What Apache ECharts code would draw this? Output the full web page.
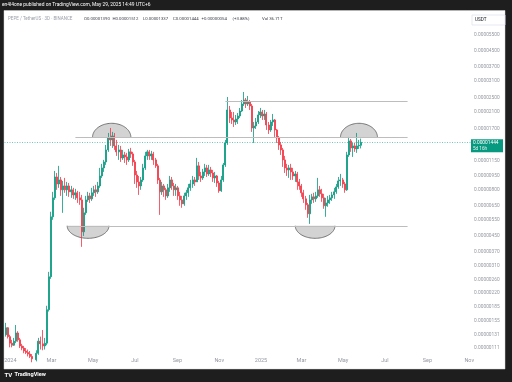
<!DOCTYPE html>
<html><head><meta charset="utf-8">
<script src="https://cdn.jsdelivr.net/npm/echarts@6/dist/echarts.min.js"></script>
<style>html,body{margin:0;padding:0;background:#1e1e1e;}#c{width:512px;height:382px;}</style>
</head><body><div id="c"></div><script>
// Prices in units of 1e-8 USDT (0.00001444 = 1444)
const PRICE_UNIT = 1e-8;
const candleStart = '2023-12-22';
const candleStepDays = 3;
const openE8 = [148,131,143,128,118,115,121,134,123,114,
111,107,105,103,100,97,96,104,121,117,
114,118,179,270,570,722,937,859,903,798,
838,798,838,778,798,749,769,722,704,473,
599,704,740,713,769,798,778,838,949,1049,
1130,1313,1524,1487,1562,1380,1281,1313,1188,1233,
1203,1159,1281,1249,1130,961,881,838,903,1049,
1218,1281,1218,1249,1159,1076,903,778,838,798,
740,818,903,838,798,818,740,704,670,740,
769,818,859,903,881,1076,949,926,998,1049,
973,1023,985,926,949,870,788,903,1089,1432,
2160,1955,1907,1860,1931,2005,2133,2328,2447,2328,
2387,2271,1726,1770,1860,2030,2107,2005,2055,1792,
1684,1860,1907,1684,1524,1397,1313,1159,1049,1023,
1049,998,949,973,881,838,769,713,662,592,
704,731,713,740,798,759,722,654,678,704,
722,749,778,828,892,903,859,798,1233,1469,
1346,1380,1329,1380,1390];
const highE8 = [152,152,144,131,123,126,148,137,126,117,
114,111,109,107,103,100,108,126,128,139,
126,188,287,607,778,1010,985,1076,937,892,
926,881,870,838,818,808,788,778,749,638,
740,778,769,818,838,849,881,1049,1103,1159,
1397,1622,1726,1643,1622,1487,1397,1380,1313,1281,
1265,1329,1346,1281,1159,1010,949,937,1103,1281,
1313,1313,1297,1281,1188,1103,926,881,859,818,
859,949,937,870,859,838,778,740,769,798,
859,903,949,937,1188,1130,998,1036,1103,1089,
1089,1062,1023,998,961,892,949,1116,1487,2540,
2271,2107,2107,2030,2081,2215,2447,2703,2508,2572,
2447,2328,1860,1955,2133,2215,2160,2160,2107,1860,
1907,2055,1931,1705,1562,1450,1346,1218,1103,1089,
1103,1049,1010,998,914,859,798,740,678,749,
759,769,778,926,838,808,759,722,740,749,
778,818,859,937,973,926,881,1281,1543,1505,
1432,1432,1622,1487,1512];
const lowE8 = [126,128,125,112,112,114,118,120,111,108,
104,103,100,98,93,92,94,102,109,108,
109,115,175,263,549,704,798,818,740,599,
769,740,731,722,713,704,678,662,392,449,
584,687,678,695,740,731,759,818,926,998,
1089,1281,1380,1346,1313,1218,1159,1130,1159,1116,
1089,1130,1188,1076,859,818,749,798,881,1023,
1159,1159,1159,1089,1049,859,584,749,731,704,
722,778,798,740,740,704,654,638,654,704,
731,788,818,838,881,903,881,903,949,937,
949,937,881,870,828,769,778,881,1062,1397,
1837,1814,1748,1792,1814,1955,2107,2271,2215,2271,
2160,1643,1432,1705,1814,1955,1907,1907,1684,1602,
1643,1770,1543,1432,1313,1233,1062,985,949,926,
903,903,881,798,798,731,678,622,563,522,
670,678,687,722,731,687,630,570,646,670,
695,713,759,808,838,818,769,788,1203,1281,
1203,1281,1265,1329,1337];
const closeE8 = [131,143,128,118,115,121,134,123,114,111,
107,105,103,100,97,96,104,121,117,114,
118,179,270,570,722,937,859,903,798,838,
798,838,778,798,749,769,722,704,473,599,
704,740,713,769,798,778,838,949,1049,1130,
1313,1524,1487,1562,1380,1281,1313,1188,1233,1203,
1159,1281,1249,1130,961,881,838,903,1049,1218,
1281,1218,1249,1159,1076,903,778,838,798,740,
818,903,838,798,818,740,704,670,740,769,
818,859,903,881,1076,949,926,998,1049,973,
1023,985,926,949,870,788,903,1089,1432,2160,
1955,1907,1860,1931,2005,2133,2328,2447,2328,2387,
2271,1726,1770,1860,2030,2107,2005,2055,1792,1684,
1860,1907,1684,1524,1397,1313,1159,1049,1023,1049,
998,949,973,881,838,769,713,662,592,704,
731,713,740,798,759,722,654,678,704,722,
749,778,828,892,903,859,798,1233,1469,1346,
1380,1329,1380,1390,1444];

const yTickValues = [0.000055,0.000045,0.000037,0.000031,0.000025,0.000021,0.000017,0.0000115,0.0000095,0.000008,0.0000065,0.0000055,0.0000045,0.0000037,0.0000031,0.0000026,0.0000022,0.00000185,0.00000155,0.00000131,0.00000111];
const xTickDates = ['2024-01-01','2024-03-01','2024-05-01','2024-07-01','2024-09-01','2024-11-01','2025-01-01','2025-03-01','2025-05-01','2025-07-01','2025-09-01','2025-11-01'];
const xTickLabels = ['2024','Mar','May','Jul','Sep','Nov','2025','Mar','May','Jul','Sep','Nov'];

const levelStart = ['2024-04-05','2024-11-10','2024-03-25'];
const levelEnd = ['2025-08-03','2025-08-03','2025-08-03'];
const levelPrice = [0.00001536,0.00002406,0.0000051];

const arcStart = ['2024-04-30','2024-03-24','2025-02-20','2025-04-27'];
const arcEnd = ['2024-06-25','2024-05-24','2025-04-19','2025-06-20'];
const arcBase = [0.00001536,0.0000051,0.0000051,0.00001536];
const arcTip = [0.00001829,0.00000436,0.00000436,0.00001829];

const lastPrice = 0.00001444;
const lastPriceText = '0.00001444';
const countdownText = '5d 16h';
const headerSymbol = 'PEPE / TetherUS · 3D · BINANCE';
const headerValues = ['O0.00001390','H0.00001512','L0.00001337','C0.00001444','+0.00000054','(+3.88%)','Vol 36.71T'];
const publishText = 'en4l4one published on TradingView.com, May 29, 2025 14:49 UTC+6';

const DAY = 86400000;
const ts = d => Date.parse(d + 'T00:00:00Z');
const lg = Math.log10;
const xMin = Date.parse('2023-12-23T12:00:00Z');
const xMax = Date.parse('2025-11-03T00:00:00Z');

const candles = closeE8.map((c, k) => [
  ts(candleStart) + k * candleStepDays * DAY,
  lg(openE8[k] * PRICE_UNIT), lg(c * PRICE_UNIT), lg(lowE8[k] * PRICE_UNIT), lg(highE8[k] * PRICE_UNIT)
]);
const levels = levelPrice.map((p, i) => [ts(levelStart[i]), ts(levelEnd[i]), lg(p)]);
const arcs = arcBase.map((b, i) => [ts(arcStart[i]), ts(arcEnd[i]), lg(b), lg(arcTip[i])]);
const xTickTs = xTickDates.map(ts);

const FONT = 'Roboto, "DejaVu Sans", sans-serif';
const chart = echarts.init(document.getElementById('c'), null, {renderer: 'canvas'});
const option = {
  animation: false,
  backgroundColor: '#1e1e1e',
  grid: {left: 4.5, right: 41.4, top: 11, bottom: 27, containLabel: false},
  xAxis: {
    type: 'value', min: xMin, max: xMax,
    axisLine: {show: false}, axisTick: {show: false}, splitLine: {show: false},
    axisLabel: {
      customValues: xTickTs, margin: 2.5, fontSize: 5.5, color: '#9598a1', fontFamily: FONT,
      formatter: v => { const i = xTickTs.findIndex(t => Math.abs(t - v) < DAY); return i >= 0 ? xTickLabels[i] : ''; }
    }
  },
  yAxis: {
    type: 'value', position: 'right', min: lg(1.018e-6), max: lg(7.418e-5), scale: true,
    axisLine: {show: false}, axisTick: {show: false}, splitLine: {show: false},
    axisLabel: {
      customValues: yTickValues.map(lg), margin: 3.5, fontSize: 4.8, color: '#9598a1', fontFamily: FONT,
      formatter: v => Math.pow(10, v).toFixed(8)
    }
  },
  series: [
    {
      type: 'custom', z: 1, silent: true, clip: true,
      data: arcs, encode: {x: [0, 1], y: [2, 3]},
      renderItem: (params, api) => {
        const a = api.coord([api.value(0), api.value(2)]);
        const b = api.coord([api.value(1), api.value(2)]);
        const t = api.coord([api.value(0), api.value(3)]);
        const cx = (a[0] + b[0]) / 2, rx = (b[0] - a[0]) / 2, by = a[1], ry = t[1] - by;
        const pts = [];
        for (let i = 0; i <= 48; i++) { const th = Math.PI * i / 48; pts.push([cx - rx * Math.cos(th), by + ry * Math.sin(th)]); }
        return {type: 'group', children: [
          {type: 'polygon', shape: {points: pts}, style: {fill: 'rgba(150,150,150,0.42)', stroke: 'none'}},
          {type: 'polyline', shape: {points: pts}, style: {stroke: '#5a5a5a', lineWidth: 0.8, fill: 'none'}}
        ]};
      }
    },
    {
      type: 'custom', z: 4, silent: true, clip: true,
      data: levels, encode: {x: [0, 1], y: 2},
      renderItem: (params, api) => {
        const a = api.coord([api.value(0), api.value(2)]);
        const b = api.coord([api.value(1), api.value(2)]);
        const y = Math.round(a[1]) + 0.5;
        return {type: 'polyline', shape: {points: [[a[0], y], [b[0], y]]}, style: {stroke: '#bdbdbd', lineWidth: 1, fill: 'none', opacity: 1}};
      }
    },
    {
      type: 'candlestick', z: 3, clip: true,
      data: candles, encode: {x: 0, y: [1, 2, 3, 4]},
      barWidth: 1.5,
      itemStyle: {color: '#089981', color0: '#f23645', borderColor: '#089981', borderColor0: '#f23645', borderWidth: 0.8},
      markLine: {
        silent: true, symbol: ['none', 'none'], animation: false,
        lineStyle: {color: '#089981', type: [1, 1.5], width: 0.8, opacity: 0.7},
        label: {show: false},
        data: [{yAxis: lg(lastPrice)}]
      }
    }
  ],
  graphic: [
    {type: 'rect', z: -10, shape: {x: 4, y: 10.5, width: 501, height: 358.5}, style: {fill: '#ffffff', stroke: '#d6d6d6', lineWidth: 0.5}},
    {type: 'text', z: 10, left: 2, top: 2.2, style: {text: publishText, fill: '#ffffff', fontSize: 4.9, fontFamily: FONT}},
    {type: 'text', z: 10, left: 8, top: 16.5, style: {text: headerSymbol, fill: '#9a9ea8', fontSize: 4.5, fontFamily: FONT}}
  ]
};
const valueX = [84, 112.5, 143, 173, 201.5, 232.5, 262];
headerValues.forEach((t, i) => option.graphic.push({type: 'text', z: 10, left: valueX[i], top: 16.5, style: {text: t, fill: '#3b3f48', fontSize: 4.3, fontFamily: FONT}}));
chart.setOption(option);

const py = chart.convertToPixel({gridIndex: 0}, [xMax, lg(lastPrice)])[1];
chart.setOption({graphic: option.graphic.concat([
  {type: 'rect', z: 10, shape: {x: 471, y: py - 3, width: 32, height: 13}, style: {fill: '#089981'}},
  {type: 'text', z: 11, x: 473, y: py + 0.2, style: {text: lastPriceText, fill: '#ffffff', fontSize: 4.8, fontFamily: FONT, verticalAlign: 'middle'}},
  {type: 'text', z: 11, x: 473, y: py + 6.3, style: {text: countdownText, fill: '#e8f5f2', fontSize: 4.6, fontFamily: FONT, verticalAlign: 'middle'}},
  {type: 'rect', z: 10, shape: {x: 472, y: 15, width: 33, height: 10}, style: {fill: '#ffffff', stroke: '#e0e3eb', lineWidth: 0.8}},
  {type: 'text', z: 11, x: 475, y: 20, style: {text: 'USDT', fill: '#131722', fontSize: 4.6, fontFamily: FONT, verticalAlign: 'middle'}},
  {type: 'text', z: 11, x: 4.5, y: 375, style: {text: 'TV', fill: '#ffffff', fontSize: 6, fontWeight: 'bold', fontFamily: FONT, verticalAlign: 'middle'}},
  {type: 'text', z: 11, x: 14.5, y: 375, style: {text: 'TradingView', fill: '#ffffff', fontSize: 5.6, fontWeight: 'bold', fontFamily: FONT, verticalAlign: 'middle'}}
])});
</script></body></html>
